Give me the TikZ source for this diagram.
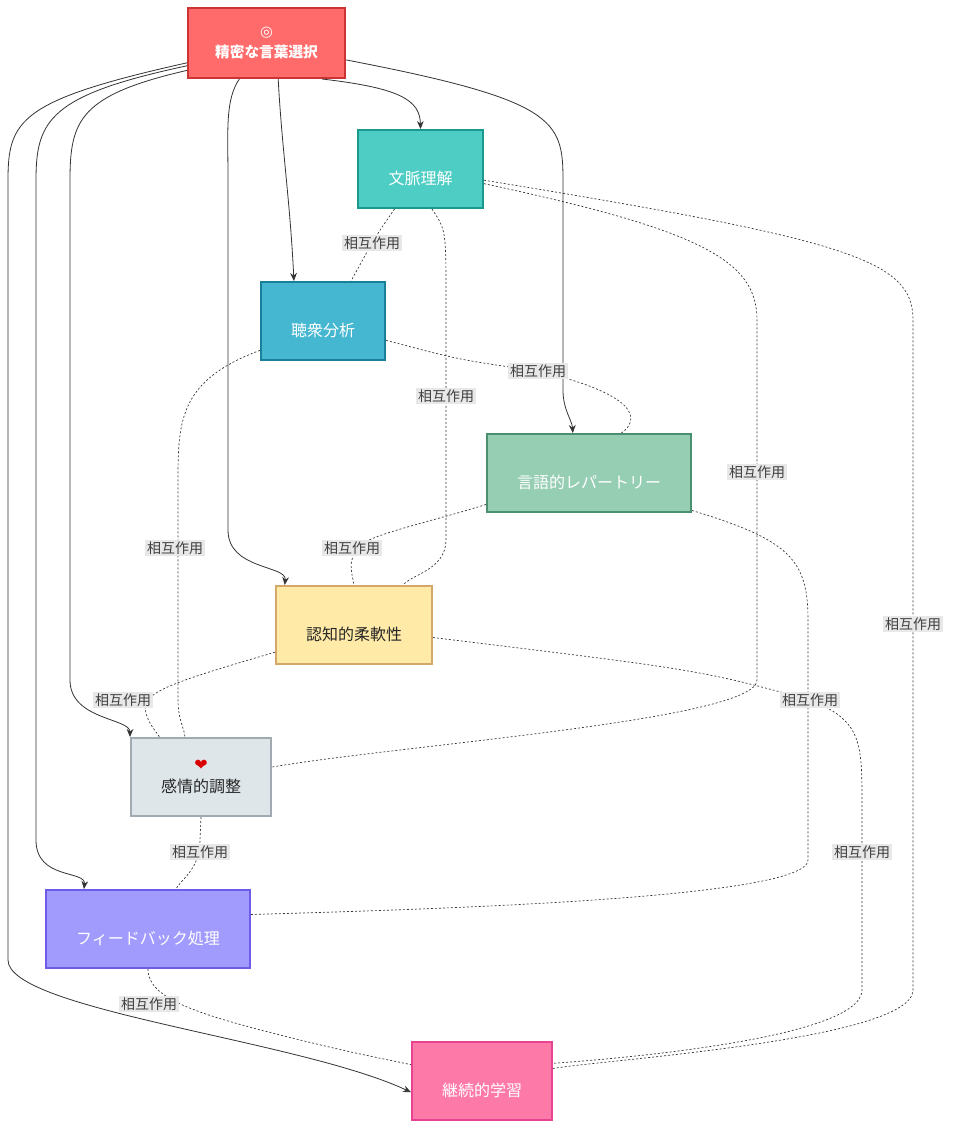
\documentclass[tikz,border=0pt]{standalone}
\usepackage{fontspec}
\setmainfont{Noto Sans CJK JP}
\newfontfamily\sym{DejaVu Sans}
\usetikzlibrary{arrows.meta}
\definecolor{cA}{HTML}{FF6B6B}\definecolor{bA}{HTML}{CC3333}
\definecolor{cB}{HTML}{4ECDC4}\definecolor{bB}{HTML}{1A9A8F}
\definecolor{cC}{HTML}{45B7D1}\definecolor{bC}{HTML}{1A7F99}
\definecolor{cD}{HTML}{96CEB4}\definecolor{bD}{HTML}{4A8F70}
\definecolor{cE}{HTML}{FFEAA7}\definecolor{bE}{HTML}{D4A76A}
\definecolor{cF}{HTML}{DFE6E9}\definecolor{bF}{HTML}{A0AAB0}
\definecolor{cG}{HTML}{A29BFE}\definecolor{bG}{HTML}{6C5CE7}
\definecolor{cH}{HTML}{FD79A8}\definecolor{bH}{HTML}{E84393}
\definecolor{lbl}{HTML}{E8E8E8}
\begin{document}
\begin{tikzpicture}[x=0.75pt,y=-0.75pt,
  box/.style 2 args={draw=b#1,fill=c#1,line width=1.5pt,minimum width=#2,minimum height=58.5pt,inner sep=2pt,align=center,font=\fontsize{12}{17}\selectfont,text=white},
  dark/.style={text=black!85},
  arr/.style={draw=black!80,line width=0.6pt,-{Stealth[length=6pt,width=5pt]}},
  dot/.style={draw=black!80,line width=0.5pt,dash pattern=on 1.5pt off 1.5pt},
  lab/.style={fill=lbl,text=black!75,font=\fontsize{10.5}{12}\selectfont,inner sep=1.5pt}]
\useasboundingbox (0,0) rectangle (955,1128);
\fill[white] (0,0) rectangle (955,1128);
% nodes
\node[box={A}{117.75pt},minimum height=52.5pt,font=\bfseries\fontsize{11}{16}\selectfont] (A) at (266.5,43) {{\sym\textcolor{white}{◎}}\\精密な言葉選択};
\node[box={B}{93.75pt}] (B) at (420.5,169) {\phantom{x}\\文脈理解};
\node[box={C}{93pt}] (C) at (323,321) {\phantom{x}\\聴衆分析};
\node[box={D}{153pt}] (D) at (589,473) {\phantom{x}\\言語的レパートリー};
\node[box={E}{117pt},dark] (E) at (354,625) {\phantom{x}\\認知的柔軟性};
\node[box={F}{105pt},dark] (F) at (201,777) {{\sym\textcolor{red!85!black}{❤}}\\感情的調整};
\node[box={G}{153pt}] (G) at (148,929) {\phantom{x}\\フィードバック処理};
\node[box={H}{105pt}] (H) at (482,1081) {\phantom{x}\\継続的学習};
% solid arrows
\draw[arr] (A.-33) .. controls (400,88) and (420,100) .. (B.north);
\draw[arr] (A.-72) .. controls (282,150) and (290,200) .. (C.126);
\draw[arr] (A.-12) .. controls (555,100) and (563,120) .. (563,180) -- (563,390) .. controls (563,410) and (572,420) .. (D.112);
\draw[arr] (A.-127) .. controls (225,100) and (228,130) .. (228,180) -- (228,530) .. controls (228,570) and (287,565) .. (E.150);
\draw[arr] (A.-161) .. controls (80,95) and (70,120) .. (70,180) -- (70,680) .. controls (70,720) and (130,718) .. (F.north west);
\draw[arr] (A.196) .. controls (50,95) and (36,120) .. (36,180) -- (36,840) .. controls (36,880) and (86,870) .. (G.148);
\draw[arr] (A.194) .. controls (20,100) and (8,120) .. (8,180) -- (8,960) .. controls (8,1010) and (300,1040) .. (H.189);
% dotted interactions
\draw[dot] (B.-123) .. controls (380,230) .. (372,243) .. controls (362,262) .. (C.55);
\draw[dot] (B.-74) .. controls (446,230) .. (446,300) -- (446,540) .. controls (446,570) and (410,575) .. (E.39);
\draw[dot] (B.-13) .. controls (700,230) and (757,260) .. (757,320) -- (757,680) .. controls (757,720) and (400,745) .. (F.8);
\draw[dot] (B.-10) .. controls (850,240) and (913,260) .. (913,320) -- (913,990) .. controls (913,1040) and (600,1060) .. (H.10);
\draw[dot] (C.-17) .. controls (460,360) .. (538,371) .. controls (640,395) and (640,420) .. (D.51);
\draw[dot] (C.-155) .. controls (180,380) and (178,420) .. (178,480) -- (178,700) .. controls (178,720) and (185,730) .. (F.112);
\draw[dot] (D.197) .. controls (420,525) and (365,535) .. (355,550) .. controls (350,565) .. (E.north);
\draw[dot] (D.-20) .. controls (790,540) and (808,560) .. (808,620) -- (808,860) .. controls (808,900) and (400,910) .. (G.8);
\draw[dot] (E.-9) .. controls (700,670) .. (810,700) .. controls (860,720) and (862,740) .. (862,800) -- (862,990) .. controls (862,1040) and (600,1060) .. (H.14);
\draw[dot] (E.199) .. controls (180,680) and (150,690) .. (145,705) .. controls (145,720) and (155,730) .. (F.136);
\draw[dot] (F.south) -- (200,840) .. controls (200,870) and (180,880) .. (G.55);
\draw[dot] (G.south) .. controls (148,1000) and (200,1015) .. (300,1040) .. controls (350,1052) .. (H.167);
% labels
\node[lab] (l1) at (372,243) {相互作用};
\node[lab] (l2) at (538,371) {相互作用};
\node[lab] (l3) at (446,396) {相互作用};
\node[lab] (l4) at (757,472) {相互作用};
\node[lab] (l5) at (175,548) {相互作用};
\node[lab] (l6) at (352,548) {相互作用};
\node[lab] (l7) at (913,624) {相互作用};
\node[lab] (l8) at (123,700) {相互作用};
\node[lab] (l9) at (810,700) {相互作用};
\node[lab] (l10) at (200,852) {相互作用};
\node[lab] (l11) at (862,852) {相互作用};
\node[lab] (l12) at (149,1004) {相互作用};
\end{tikzpicture}
\end{document}
